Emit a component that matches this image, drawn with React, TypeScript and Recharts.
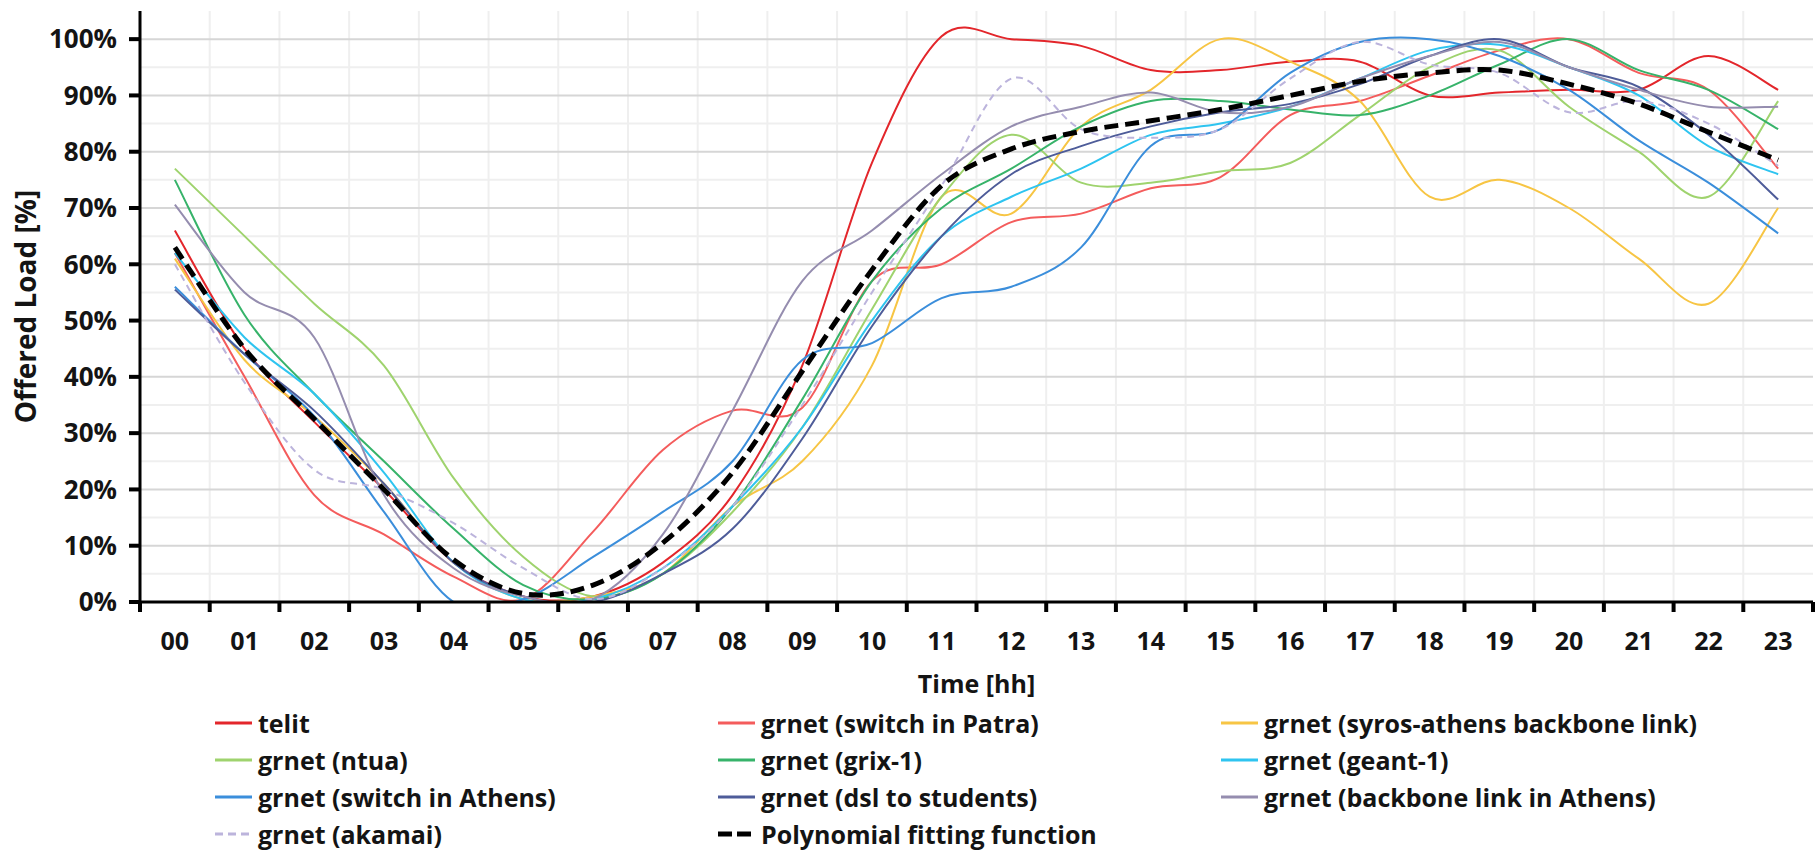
import React from 'react';
import { LineChart, Line, XAxis, YAxis, CartesianGrid, Legend, Label } from 'recharts';

// ---------- data ----------
const HOURS = [0, 1, 2, 3, 4, 5, 6, 7, 8, 9, 10, 11, 12, 13, 14, 15, 16, 17, 18, 19, 20, 21, 22, 23];
const HOUR_LABELS = ['00', '01', '02', '03', '04', '05', '06', '07', '08', '09', '10', '11', '12', '13', '14', '15', '16', '17', '18', '19', '20', '21', '22', '23'];
const Y_TICKS = [0, 10, 20, 30, 40, 50, 60, 70, 80, 90, 100];
const Y_MINOR = [5, 15, 25, 35, 45, 55, 65, 75, 85, 95];
const Y_MAJOR = [10, 20, 30, 40, 50, 60, 70, 80, 90, 100];

const telit = [66, 45, 32, 20, 7, 1, 1, 7, 19, 42, 78, 100.5, 100, 98.8, 94.5, 94.5, 96, 96, 90, 90.5, 91, 91, 97, 91];
const switchPatra = [62, 40, 19, 12, 4.5, 0.5, 12.5, 27, 34, 34.5, 57, 60, 67.5, 69, 73.5, 75.5, 86.5, 89, 93.5, 98, 100, 94, 91, 77];
const syrosAthens = [61, 43, 33, 21, 7, 0.5, 1, 5, 17, 25, 42, 72, 69, 84.5, 91, 100, 96, 89, 72, 75, 70, 61, 53, 70];
const ntua = [77, 65, 53, 42, 22, 8, 1, 5, 16, 31, 52, 72, 83, 74.5, 74.5, 76.5, 78, 86.5, 95, 98, 88, 80, 72, 89];
const grix1 = [75, 51, 37, 25, 13, 3, 0.5, 5, 17, 36, 57, 70, 77, 84.5, 89, 89, 87.5, 86.5, 90, 95.5, 100, 94.5, 91, 84];
const geant1 = [62, 47, 37, 23, 7, 0.5, 0.5, 6, 17, 31, 50, 65, 72, 77, 83, 85, 88, 93, 98, 99, 95, 90, 81, 76];
const switchAthens = [56, 44, 33, 16, 0, 0.5, 8, 16, 25, 43, 46, 54, 56, 63, 81, 84, 94, 99.5, 100, 97, 91, 82, 74.5, 65.5];
const dslStudents = [55.5, 44, 34, 21, 7, 1, 0, 5, 13, 29, 49, 65, 76, 81, 84.5, 87, 88.5, 92, 97, 100, 95, 91.5, 83, 71.5];
const backboneAthens = [70.6, 55, 47, 19, 6, 1, 0.5, 12, 34, 57, 66, 76, 84.5, 88, 90.5, 87, 88, 93, 97, 99.5, 95, 91, 88, 88];
const akamai = [60, 39, 23.5, 20, 14, 6, 0.5, 6, 17, 35, 55, 74, 93, 84, 82.5, 84, 93, 99.5, 95.5, 94, 87, 89, 85, 77.5];
const polyFit = [63, 45, 32.5, 20, 7.5, 1.5, 3, 10.5, 23, 41, 59, 74, 80.5, 83.6, 85.5, 87.5, 90, 92.5, 94, 94.5, 92, 88.5, 83.5, 78.5];

const SERIES = [
  { key: 'telit', name: 'telit', values: telit, color: '#e3262b', width: 2, dash: undefined, legendDash: undefined, legendWidth: 3 },
  { key: 'patra', name: 'grnet (switch in Patra)', values: switchPatra, color: '#f45c5c', width: 2, dash: undefined, legendDash: undefined, legendWidth: 3 },
  { key: 'syros', name: 'grnet (syros-athens backbone link)', values: syrosAthens, color: '#f7c544', width: 2, dash: undefined, legendDash: undefined, legendWidth: 3 },
  { key: 'ntua', name: 'grnet (ntua)', values: ntua, color: '#9fd36e', width: 2, dash: undefined, legendDash: undefined, legendWidth: 3 },
  { key: 'grix', name: 'grnet (grix-1)', values: grix1, color: '#37b36a', width: 2, dash: undefined, legendDash: undefined, legendWidth: 3 },
  { key: 'geant', name: 'grnet (geant-1)', values: geant1, color: '#2ec4f0', width: 2, dash: undefined, legendDash: undefined, legendWidth: 3 },
  { key: 'athens', name: 'grnet (switch in Athens)', values: switchAthens, color: '#3b8edb', width: 2, dash: undefined, legendDash: undefined, legendWidth: 3 },
  { key: 'dsl', name: 'grnet (dsl to students)', values: dslStudents, color: '#4e5c99', width: 2, dash: undefined, legendDash: undefined, legendWidth: 3 },
  { key: 'backbone', name: 'grnet (backbone link in Athens)', values: backboneAthens, color: '#958daf', width: 2, dash: undefined, legendDash: undefined, legendWidth: 3 },
  { key: 'akamai', name: 'grnet (akamai)', values: akamai, color: '#bcb4dc', width: 2, dash: '7 5', legendDash: '8 5', legendWidth: 3 },
  { key: 'fit', name: 'Polynomial fitting function', values: polyFit, color: '#000000', width: 5, dash: '14 7', legendDash: '14 5', legendWidth: 5 },
];

const DATA = HOURS.map((h, i) => {
  const row: any = { hour: h, label: HOUR_LABELS[i] };
  SERIES.forEach((s) => { row[s.key] = s.values[i]; });
  return row;
});

const X_TICKS = [...HOURS.map((h) => h - 0.5), ...HOURS, HOURS[HOURS.length - 1] + 0.5].sort((a, b) => a - b);
const X_BOUNDARIES = HOURS.slice(1).map((h) => h - 0.5);

// ---------- smooth curve (Excel-like Catmull-Rom) ----------
const excelSmooth: any = (context: any) => {
  let xs: number[] = [];
  let ys: number[] = [];
  return {
    areaStart() {},
    areaEnd() {},
    lineStart() { xs = []; ys = []; },
    point(x: number, y: number) { xs.push(+x); ys.push(+y); },
    lineEnd() {
      const n = xs.length;
      if (!n) return;
      context.moveTo(xs[0], ys[0]);
      for (let i = 0; i < n - 1; i++) {
        const i0 = Math.max(0, i - 1);
        const i3 = Math.min(n - 1, i + 2);
        const c1x = xs[i] + (xs[i + 1] - xs[i0]) / 6;
        const c1y = ys[i] + (ys[i + 1] - ys[i0]) / 6;
        const c2x = xs[i + 1] - (xs[i3] - xs[i]) / 6;
        const c2y = ys[i + 1] - (ys[i3] - ys[i]) / 6;
        context.bezierCurveTo(c1x, c1y, c2x, c2y, xs[i + 1], ys[i + 1]);
      }
    },
  };
};

const TEXT = '#141414';
const FONT = 25;

const XTick = (props: any) => {
  const { x, y, payload } = props;
  const v = payload.value;
  if (!Number.isInteger(v)) {
    return <line x1={x} x2={x} y1={y} y2={y + 10} stroke="#000" strokeWidth={4} />;
  }
  const idx = HOURS.indexOf(v);
  return (
    <text x={x} y={y + 38} textAnchor="middle" dominantBaseline="central" fill={TEXT} fontSize={FONT} fontWeight={700}>
      {HOUR_LABELS[idx]}
    </text>
  );
};

const XTitle = (props: any) => {
  const vb = props.viewBox || {};
  return (
    <text x={vb.x + vb.width / 2} y={vb.y + 81} textAnchor="middle" dominantBaseline="central" fill={TEXT} fontSize={FONT} fontWeight={700}>
      Time [hh]
    </text>
  );
};

const YTitle = (props: any) => {
  const vb = props.viewBox || {};
  const cx = vb.x + 15;
  const cy = vb.y + vb.height / 2;
  return (
    <text x={cx} y={cy} transform={`rotate(-90 ${cx} ${cy})`} textAnchor="middle" dominantBaseline="central" fill={TEXT} fontSize={28} fontWeight={700}>
      Offered Load [%]
    </text>
  );
};

const renderLegend = () => (
  <div style={{ display: 'grid', gridTemplateColumns: 'repeat(3, 503px)' }}>
    {SERIES.map((s) => (
      <div key={s.key} style={{ display: 'flex', alignItems: 'center', height: 37 }}>
        <svg width={43} height={12} style={{ flex: 'none' }}>
          <line x1={0} x2={37} y1={6} y2={6} stroke={s.color} strokeWidth={s.legendWidth} strokeDasharray={s.legendDash} />
        </svg>
        <span style={{ fontSize: FONT, fontWeight: 700, color: TEXT, whiteSpace: 'nowrap', lineHeight: '26px' }}>{s.name}</span>
      </div>
    ))}
  </div>
);

export default function App() {
  return (
    <div style={{ position: 'absolute', left: 0, top: 0, width: 1819, height: 850, background: '#fff', fontFamily: "'Open Sans', 'Noto Sans', sans-serif", fontWeight: 700, overflow: 'hidden' }}>
      <LineChart width={1819} height={850} data={DATA} margin={{ top: 11, right: 6, bottom: 188, left: 10 }}>
        <CartesianGrid horizontalValues={Y_MINOR} verticalValues={X_BOUNDARIES} stroke="#efefef" strokeWidth={2} />
        <CartesianGrid horizontalValues={Y_MAJOR} vertical={false} stroke="#d6d6d6" strokeWidth={2} />
        <XAxis
          dataKey="hour"
          type="number"
          domain={[-0.5, 23.5]}
          ticks={X_TICKS}
          interval={0}
          height={60}
          tickLine={false}
          tickSize={0}
          tickMargin={0}
          axisLine={{ stroke: '#000', strokeWidth: 3 }}
          tick={XTick}
        >
          <Label content={XTitle} />
        </XAxis>
        <XAxis xAxisId="top" orientation="top" type="number" domain={[-0.5, 23.5]} height={0} tick={false} tickLine={false} axisLine={{ stroke: '#2a2a2a', strokeWidth: 2 }} />
        <YAxis
          type="number"
          domain={[0, 105]}
          allowDataOverflow
          ticks={Y_TICKS}
          interval={0}
          width={130}
          tickSize={11}
          tickMargin={12}
          tickLine={{ stroke: '#000', strokeWidth: 4 }}
          axisLine={{ stroke: '#000', strokeWidth: 3 }}
          tick={{ fill: TEXT, fontSize: 26, fontWeight: 700 }}
          tickFormatter={(v: number) => `${v}%`}
        >
          <Label content={YTitle} />
        </YAxis>
        <YAxis yAxisId="right" orientation="right" type="number" domain={[0, 105]} width={0} tick={false} tickLine={false} axisLine={{ stroke: '#1a1a1a', strokeWidth: 2 }} />
        {SERIES.map((s) => (
          <Line
            key={s.key}
            dataKey={s.key}
            name={s.name}
            type={excelSmooth}
            stroke={s.color}
            strokeWidth={s.width}
            strokeDasharray={s.dash}
            dot={false}
            activeDot={false}
            isAnimationActive={false}
          />
        ))}
        <Legend
          layout="horizontal"
          verticalAlign="middle"
          align="center"
          content={renderLegend}
          wrapperStyle={{ position: 'absolute', left: 215, top: 704, width: 1560, height: 146 }}
        />
      </LineChart>
    </div>
  );
}
